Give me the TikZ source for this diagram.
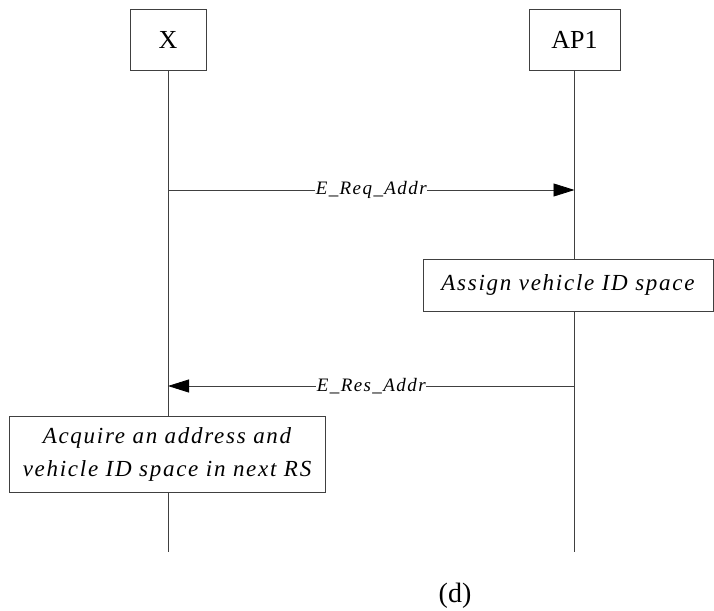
\documentclass[tikz,border=0pt]{standalone}
\usepackage{fontspec}
\setmainfont{Liberation Serif}
\newfontfamily\spacedit[LetterSpace=7.5]{Liberation Serif}
\usetikzlibrary{arrows.meta}
\begin{document}
\begin{tikzpicture}[x=1pt,y=-1pt,
  line width=0.8pt, draw={black!75},
  party/.style={draw, fill=white, minimum width=76pt, minimum height=61pt, inner sep=0pt, font=\fontsize{26}{28}\selectfont},
  action/.style={draw, fill=white, inner sep=0pt, align=center, font=\spacedit\itshape\fontsize{23}{33}\selectfont},
  msg/.style={fill=white, inner sep=0.5pt, font=\spacedit\itshape\fontsize{19}{21}\selectfont},
  lifeline/.style={draw={black!75}},
  sig/.style={draw={black!75}, -{Triangle[length=21pt,width=13pt,color=black]}}]
\useasboundingbox (0,0) rectangle (714,610);
% lifelines first, so the boxes cover them
\coordinate (xtop) at (168,70);
\coordinate (aptop) at (574.5,70);
\coordinate (xend) at (168,552);
\coordinate (apend) at (574.5,552);
\draw[lifeline] (xtop) -- (xend);
\draw[lifeline] (aptop) -- (apend);
% participants
\node[party] (x) at (168,39.5) {X};
\node[party, minimum width=91pt] (ap) at (574.5,39.5) {AP1};
% local actions
\node[action, minimum width=290pt, minimum height=52pt] (assign) at (568,285) {Assign vehicle ID space};
\node[action, minimum width=316pt, minimum height=76pt] (acquire) at (167,454) {Acquire an address and\\vehicle ID space in next RS};
% messages
\coordinate (req0) at (168,190);
\coordinate (req1) at (574.5,190);
\coordinate (res0) at (574.5,386);
\coordinate (res1) at (168,386);
\draw[sig] (req0) -- node[msg] (reqlbl) {E\_Req\_Addr} (req1);
\draw[sig] (res0) -- node[msg] (reslbl) {E\_Res\_Addr} (res1);
% caption
\node[font=\fontsize{28}{30}\selectfont] (cap) at (455,596) {(d)};
\end{tikzpicture}
\end{document}
